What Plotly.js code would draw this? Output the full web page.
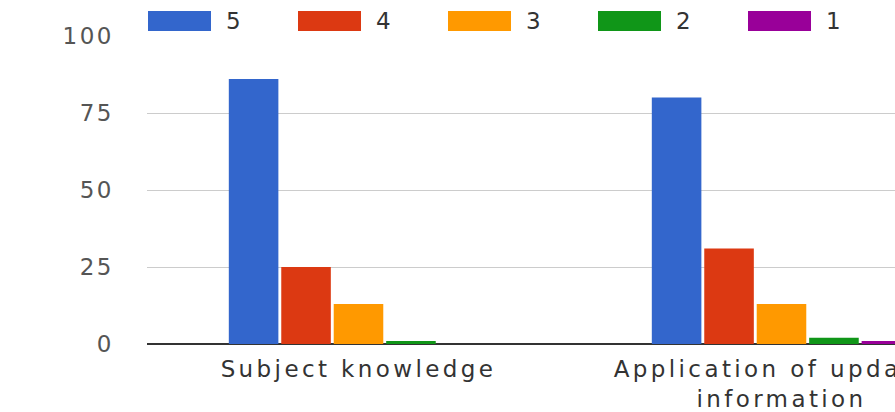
<!DOCTYPE html>
<html>
<head>
<meta charset="utf-8">
<script src="https://cdn.plot.ly/plotly-3.0.1.min.js"></script>
<style>
  html, body { margin: 0; padding: 0; background: #fff; }
  #chart { width: 895px; height: 412px; }
  #chart .xtick text { letter-spacing: 3.4px; }
  #chart .ytick text { letter-spacing: 2.5px; }
</style>
</head>
<body>
<div id="chart"></div>
<script>
const categories = ["Subject knowledge", "Application of updated<br>information"];
const seriesNames = ["5", "4", "3", "2", "1"];
const seriesColors = ["#3366cc", "#dc3912", "#ff9900", "#109618", "#990099"];
const values5 = [86, 80];
const values4 = [25, 31];
const values3 = [13, 13];
const values2 = [1, 2];
const values1 = [0, 1];
const yTickValues = [0, 25, 50, 75, 100];

const seriesValues = [values5, values4, values3, values2, values1];

const W = 895, H = 412;
const mL = 147, mR = 0, mT = 36, mB = 68;
const plotW = W - mL - mR, plotH = H - mT - mB;
const catPx = 423; // pixel width of one category

const traces = seriesNames.map((name, i) => ({
  type: "bar",
  name: name,
  x: categories,
  y: seriesValues[i],
  marker: { color: seriesColors[i] },
  showlegend: false,
  hoverinfo: "x+y+name"
}));

// custom legend (wide swatches like the Google chart)
const shapes = [];
const annotations = [];
seriesNames.forEach((name, i) => {
  const x0 = 148 + i * 150;
  const x1 = x0 + 63;
  shapes.push({
    type: "rect", xref: "paper", yref: "paper",
    x0: (x0 - mL) / plotW, x1: (x1 - mL) / plotW,
    y0: (mT + plotH - 31) / plotH, y1: (mT + plotH - 11) / plotH,
    fillcolor: seriesColors[i], line: { width: 0 }
  });
  annotations.push({
    xref: "paper", yref: "paper",
    x: (x1 + 13 - mL) / plotW, y: (mT + plotH - 21) / plotH,
    xanchor: "left", yanchor: "middle",
    text: name, showarrow: false,
    font: { family: "DejaVu Sans", size: 23, color: "#333" }
  });
});

const layout = {
  width: W, height: H,
  margin: { l: mL, r: mR, t: mT, b: mB, pad: 0 },
  paper_bgcolor: "#fff", plot_bgcolor: "#fff",
  barmode: "group",
  bargap: 0.38,
  bargroupgap: 0.055,
  showlegend: false,
  xaxis: {
    type: "category",
    range: [-0.5, -0.5 + plotW / catPx],
    showgrid: false, zeroline: false, showline: false,
    ticks: "", tickangle: 0,
    ticklabelstandoff: 9,
    tickfont: { family: "DejaVu Sans", size: 23, color: "#333" },
    fixedrange: true
  },
  yaxis: {
    range: [0, 100],
    tickvals: yTickValues,
    ticktext: yTickValues.map(String),
    showgrid: true, gridcolor: "#cccccc", gridwidth: 1,
    zeroline: true, zerolinecolor: "#333333", zerolinewidth: 1.5,
    showline: false, ticks: "",
    ticklabelstandoff: 32,
    tickfont: { family: "DejaVu Sans", size: 23, color: "#555" },
    fixedrange: true
  },
  shapes: shapes,
  annotations: annotations,
  font: { family: "DejaVu Sans" }
};

Plotly.newPlot("chart", traces, layout, { displayModeBar: false, staticPlot: true });
</script>
</body>
</html>
